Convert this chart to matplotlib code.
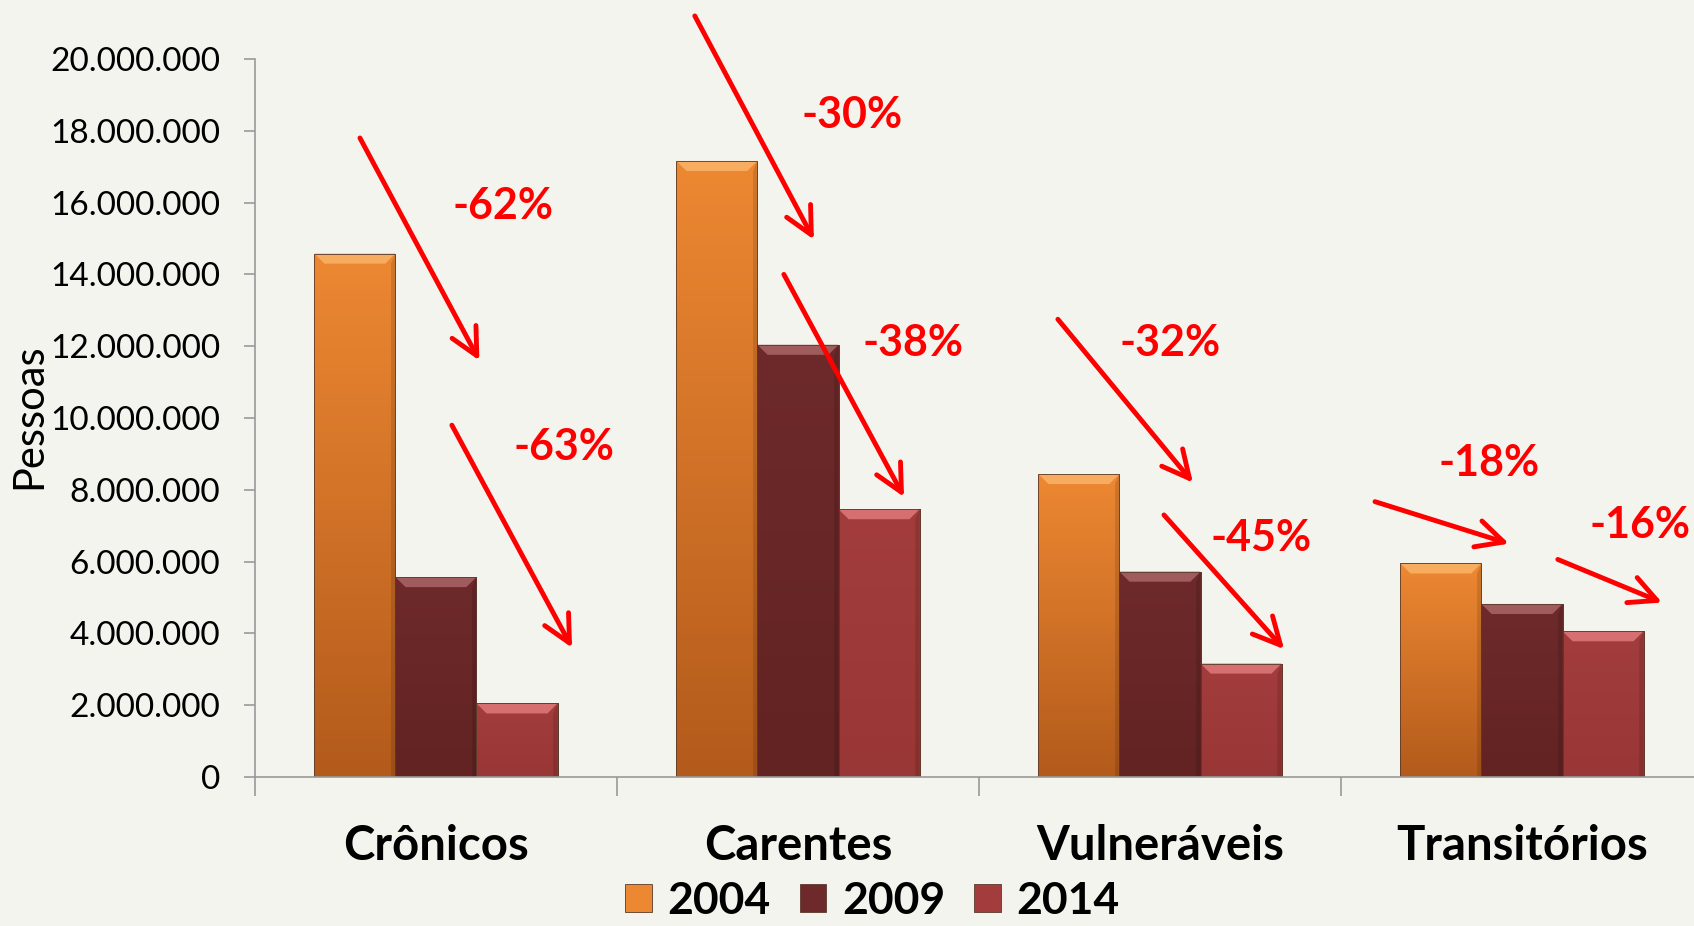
import numpy as np
import matplotlib
matplotlib.use('Agg')
import matplotlib.pyplot as plt
from matplotlib.patches import Polygon, Patch
from matplotlib.ticker import FuncFormatter
from matplotlib.colors import LinearSegmentedColormap

plt.rcParams['font.family'] = ['Lato', 'DejaVu Sans']

categorias = ['Crônicos', 'Carentes', 'Vulneráveis', 'Transitórios']
anos = ['2004', '2009', '2014']
v2004 = [14.58e6, 17.16e6, 8.44e6, 5.95e6]
v2009 = [5.57e6, 12.04e6, 5.72e6, 4.82e6]
v2014 = [2.05e6, 7.46e6, 3.16e6, 4.06e6]

# setas de variação (x em unidades de categoria, y em pessoas)
pct_labels = ['-62%', '-63%', '-30%', '-38%', '-32%', '-45%', '-18%', '-16%']
seta_ini = [(-0.21, 17.8e6), (0.044, 9.8e6), (0.715, 21.2e6), (0.961, 14.0e6),
            (1.718, 12.75e6), (2.011, 7.3e6), (2.594, 7.67e6), (3.099, 6.06e6)]
seta_fim = [(0.12, 11.6e6), (0.376, 3.6e6), (1.044, 14.97e6), (1.293, 7.8e6),
            (2.091, 8.2e6), (2.343, 3.56e6), (2.964, 6.5e6), (3.387, 4.86e6)]
pct_pos = [(0.185, 15.9e6), (0.354, 9.2e6), (1.149, 18.45e6), (1.318, 12.08e6),
           (2.028, 12.08e6), (2.279, 6.67e6), (2.909, 8.75e6), (3.326, 7.03e6)]

# cores: (topo, base, bisel)
cores = [('#ED8832', '#B35B1C', '#F7AC60'),
         ('#6E2A2A', '#632323', '#A05C5C'),
         ('#A33D3D', '#993636', '#D66F6F')]

fig = plt.figure(figsize=(16.94, 9.26), dpi=100)
fig.patch.set_facecolor('#F4F4EF')
ax = fig.add_axes([0.1505, 0.1609, 0.8548, 0.7754])
ax.patch.set_alpha(0)

x = np.arange(len(categorias))
w = 0.224
series = [v2004, v2009, v2014]
for i, vals in enumerate(series):
    c_top, c_bot, c_bev = cores[i]
    bars = ax.bar(x + (i - 1) * w, vals, w, color=c_top, edgecolor='#5a3a2a',
                  linewidth=0.6, label=anos[i], zorder=2)
    cmap = LinearSegmentedColormap.from_list('g%d' % i, [c_bot, c_top])
    for b in bars:
        x0, bw, h = b.get_x(), b.get_width(), b.get_height()
        grad = np.linspace(0, 1, 100).reshape(-1, 1)
        im = ax.imshow(grad, extent=[x0, x0 + bw, 0, h], origin='lower',
                       cmap=cmap, aspect='auto', zorder=2.1)
        im.set_clip_path(b)
        bev_h = 0.28e6
        bev_w = 0.028
        ax.add_patch(Polygon([(x0, h), (x0 + bw, h), (x0 + bw - bev_w, h - bev_h),
                              (x0 + bev_w, h - bev_h)], closed=True,
                             facecolor=c_bev, edgecolor='none', zorder=2.2))
        # sombra lateral
        ax.add_patch(Polygon([(x0 + bw - 0.012, 0), (x0 + bw, 0), (x0 + bw, h),
                              (x0 + bw - 0.012, h - bev_h)], closed=True,
                             facecolor='black', alpha=0.12, edgecolor='none', zorder=2.3))
        ax.add_patch(plt.Rectangle((x0, 0), bw, h, fill=False, edgecolor='#5a3a2a',
                                   linewidth=0.6, zorder=2.4))

for lab, p0, p1, pp in zip(pct_labels, seta_ini, seta_fim, pct_pos):
    ax.annotate('', xy=p1, xytext=p0, annotation_clip=False,
                arrowprops=dict(arrowstyle='->,head_length=1.3,head_width=0.65',
                                color='#FF0000', lw=3.5, mutation_scale=15,
                                shrinkA=0, shrinkB=0), zorder=5)
    ax.text(pp[0], pp[1], lab, color='#FF0000', fontsize=31, fontweight='bold',
            ha='center', va='center', zorder=5, clip_on=False)

ax.set_xlim(-0.5, 3.5)
ax.set_ylim(0, 20e6)
ax.set_yticks(np.arange(0, 20e6 + 1, 2e6))
ax.yaxis.set_major_formatter(FuncFormatter(lambda v, p: '{:,.0f}'.format(v).replace(',', '.')))
ax.tick_params(axis='y', labelsize=24, length=8, pad=17, color='#999999', width=1.2)
ax.set_xticks(x)
ax.set_xticklabels(categorias, fontsize=34, fontweight='bold')
ax.set_xticks(np.arange(-0.5, 4.0, 1), minor=True)
ax.tick_params(axis='x', which='major', length=0, pad=34)
ax.tick_params(axis='x', which='minor', length=14, color='#999999', width=1.2)
for s in ['top', 'right']:
    ax.spines[s].set_visible(False)
for s in ['left', 'bottom']:
    ax.spines[s].set_color('#999999')
    ax.spines[s].set_linewidth(1.2)

ax.text(-0.156, 0.502, 'Pessoas', fontsize=30, rotation=90, ha='center', va='center',
        transform=ax.transAxes)

handles = [Patch(facecolor=cores[i][0], edgecolor='#5a3a2a', linewidth=0.6) for i in range(3)]
fig.legend(handles, anos, loc='center', bbox_to_anchor=(0.515, 0.027), ncol=3,
           frameon=False, prop={'size': 32, 'weight': 'bold'}, handlelength=0.6,
           handleheight=0.6, handletextpad=0.35, columnspacing=0.65, borderaxespad=0,
           borderpad=0.1)

fig.savefig('out.png', dpi=100, facecolor=fig.get_facecolor())
